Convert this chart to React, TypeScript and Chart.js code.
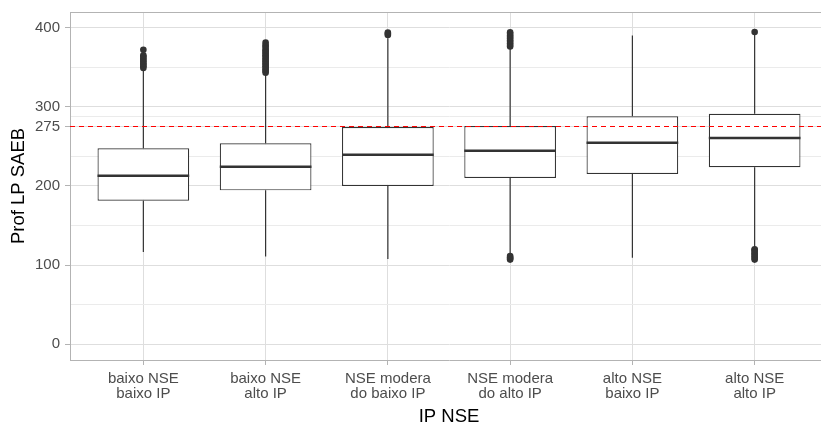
import React, { useEffect, useRef } from 'react';
import { Chart, registerables } from 'chart.js';

Chart.register(...registerables);

// ---- data ----
const CATEGORIES: string[][] = [
  ['baixo NSE', 'baixo IP'],
  ['baixo NSE', 'alto IP'],
  ['NSE modera', 'do baixo IP'],
  ['NSE modera', 'do alto IP'],
  ['alto NSE', 'baixo IP'],
  ['alto NSE', 'alto IP'],
];
const WHISKER_LOW = [116.5, 111.0, 107.7, 112.5, 109.3, 122.0];
const Q1 = [181.3, 194.4, 199.9, 210.0, 215.0, 223.5];
const MEDIAN = [212.9, 224.2, 239.4, 244.4, 254.5, 260.5];
const Q3 = [247.5, 253.8, 274.4, 275.6, 287.9, 291.2];
const WHISKER_HIGH = [346.5, 342.0, 386.5, 373.5, 390.0, 392.0];
const OUTLIERS: number[][] = [
  [349, 351, 353, 355, 357, 359, 361, 363, 365, 372],
  [343, 345, 347, 349, 351, 353, 355, 357, 359, 361, 363, 365, 367, 369, 371, 373, 376, 378, 381],
  [390.5, 392, 393.5],
  [376, 378, 380, 382, 384, 386, 388, 390, 392, 394, 107, 108.5, 110, 111.5],
  [],
  [394.3, 107, 109, 111, 113, 115, 117, 119, 120],
];
const REFERENCE_LINE = 275;
const Y_MAJOR_TICKS = [0, 100, 200, 275, 300, 400];
const Y_MINOR_TICKS = [50, 150, 237.5, 287.5, 350];

// ---- layout / style constants ----
const CANVAS_W = 832;
const CANVAS_H = 430;
const X_MIN = 0.4;
const X_MAX = 6.6;
const Y_MIN = -19.8;
const Y_MAX = 419.6;
const BOX_HALF = 0.375;
const FONT = "'Liberation Sans', Arial, sans-serif";
const DARK = '#333333';

export default function App() {
  const ref = useRef<HTMLCanvasElement>(null);

  useEffect(() => {
    if (!ref.current) return;
    const xs = CATEGORIES.map((_, i) => i + 1);

    const boxes = xs.map((x, i) => ({ x, y: [Q1[i], Q3[i]] }));
    const medians: any[] = [];
    const whiskers: any[] = [];
    xs.forEach((x, i) => {
      medians.push({ x: x - BOX_HALF, y: MEDIAN[i] }, { x: x + BOX_HALF, y: MEDIAN[i] }, { x, y: null });
      whiskers.push(
        { x, y: WHISKER_LOW[i] }, { x, y: Q1[i] }, { x, y: null },
        { x, y: Q3[i] }, { x, y: WHISKER_HIGH[i] }, { x, y: null },
      );
    });
    const outliers = OUTLIERS.flatMap((vals, i) => vals.map((v) => ({ x: xs[i], y: v })));
    const yTicks = [...Y_MAJOR_TICKS, ...Y_MINOR_TICKS].sort((a, b) => a - b);
    const isMajor = (v: number) => Y_MAJOR_TICKS.includes(v);

    // top edge of the panel border (left and bottom come from the axes)
    const frame = {
      id: 'frame',
      afterDatasetsDraw(chart: any) {
        const { ctx, chartArea } = chart;
        const y = Math.round(chartArea.top) + 0.5;
        ctx.save();
        ctx.strokeStyle = '#B3B3B3';
        ctx.lineWidth = 1;
        ctx.beginPath();
        ctx.moveTo(Math.round(chartArea.left), y);
        ctx.lineTo(chartArea.right, y);
        ctx.stroke();
        ctx.restore();
      },
    };

    const chart = new Chart(ref.current, {
      type: 'bar',
      data: {
        datasets: [
          {
            type: 'line',
            data: [{ x: X_MIN, y: REFERENCE_LINE }, { x: X_MAX, y: REFERENCE_LINE }],
            borderColor: '#FF0000',
            borderWidth: 1.2,
            borderDash: [5, 4],
            pointRadius: 0,
          } as any,
          {
            type: 'scatter',
            data: outliers,
            pointRadius: 3.3,
            pointBackgroundColor: DARK,
            pointBorderWidth: 0,
            pointBorderColor: DARK,
          } as any,
          {
            type: 'line',
            data: medians,
            borderColor: DARK,
            borderWidth: 2.4,
            borderCapStyle: 'butt',
            pointRadius: 0,
            spanGaps: false,
          } as any,
          {
            type: 'bar',
            data: boxes,
            backgroundColor: '#FFFFFF',
            borderColor: DARK,
            borderWidth: 1.2,
            borderSkipped: false,
            categoryPercentage: 1,
            barPercentage: 0.75,
          } as any,
          {
            type: 'line',
            data: whiskers,
            borderColor: DARK,
            borderWidth: 1.2,
            pointRadius: 0,
            spanGaps: false,
          } as any,
        ],
      },
      options: {
        animation: false,
        responsive: false,
        devicePixelRatio: 1,
        events: [],
        layout: { padding: { left: 0, top: 12, right: CANVAS_W - 829.5, bottom: 0 } },
        plugins: { legend: { display: false }, tooltip: { enabled: false } },
        scales: {
          x: {
            type: 'linear',
            min: X_MIN,
            max: X_MAX,
            offset: false,
            afterBuildTicks: (s: any) => { s.ticks = xs.map((v) => ({ value: v })); },
            afterFit: (s: any) => { s.height = 70; s.paddingLeft = 0; s.paddingRight = 0; },
            ticks: {
              autoSkip: false,
              maxRotation: 0,
              padding: 6,
              color: '#4D4D4D',
              font: { family: FONT, size: 15, lineHeight: 1 },
              callback: (v: any) => CATEGORIES[Math.round(Number(v)) - 1] ?? '',
            },
            grid: { offset: false, color: '#DEDEDE', lineWidth: 1, tickLength: 5, tickColor: '#B3B3B3', tickWidth: 1 },
            border: { color: '#B3B3B3', width: 1 },
            title: {
              display: true,
              text: 'IP NSE',
              color: '#000000',
              font: { family: FONT, size: 18.5, lineHeight: 1 },
              padding: { top: 0, bottom: 4 },
            },
          },
          y: {
            type: 'linear',
            min: Y_MIN,
            max: Y_MAX,
            afterBuildTicks: (s: any) => { s.ticks = yTicks.map((v) => ({ value: v })); },
            afterFit: (s: any) => { s.width = 70; s.paddingTop = 0; s.paddingBottom = 0; },
            ticks: {
              autoSkip: false,
              padding: 5,
              color: '#4D4D4D',
              font: { family: FONT, size: 15, lineHeight: 1 },
              callback: (v: any) => (isMajor(Number(v)) ? String(v) : ''),
            },
            grid: {
              color: (c: any) => (isMajor(c.tick?.value) ? '#DEDEDE' : '#EBEBEB'),
              lineWidth: 1,
              tickLength: 5,
              tickWidth: 1,
              tickColor: (c: any) => (isMajor(c.tick?.value) ? '#B3B3B3' : 'rgba(0,0,0,0)'),
            },
            border: { color: '#B3B3B3', width: 1 },
            title: {
              display: true,
              text: 'Prof LP SAEB',
              color: '#000000',
              font: { family: FONT, size: 18.5, lineHeight: 1 },
              padding: { top: 9.5, bottom: 0 },
            },
          },
        },
      } as any,
      plugins: [frame],
    });
    return () => chart.destroy();
  }, []);

  return (
    <div style={{ position: 'absolute', left: 0, top: 0, width: 821, height: 424, overflow: 'hidden', background: '#FFFFFF' }}>
      <canvas ref={ref} width={CANVAS_W} height={CANVAS_H} style={{ display: 'block' }} />
    </div>
  );
}
